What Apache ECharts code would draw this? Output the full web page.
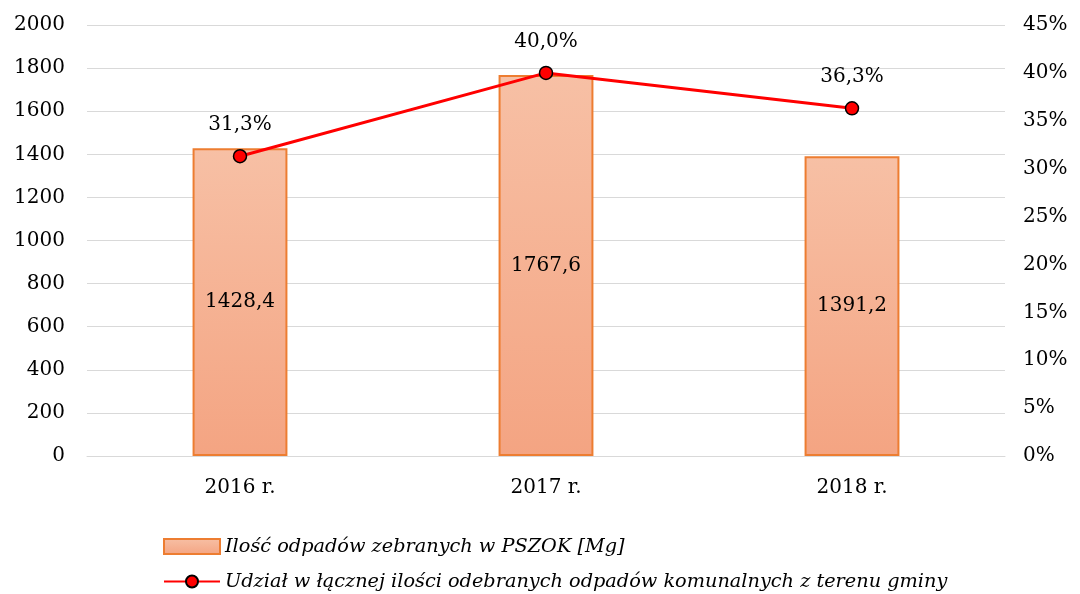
<!DOCTYPE html>
<html>
<head>
<meta charset="utf-8">
<script src="https://cdn.jsdelivr.net/npm/echarts@6/dist/echarts.min.js"></script>
<style>
  html, body { margin: 0; padding: 0; background: #fff; }
  #chart { width: 1080px; height: 594px; }
</style>
</head>
<body>
<div id="chart"></div>
<script>
// dane
var lata = ["2016 r.", "2017 r.", "2018 r."];
var ilosc = [1428.4, 1767.6, 1391.2];
var udzial = [31.3, 40.0, 36.3];
var nazwaSlupki = "Ilość odpadów zebranych w PSZOK [Mg]";
var nazwaLinia = "Udział w łącznej ilości odebranych odpadów komunalnych z terenu gminy";

(function () {
    var myChart = echarts.init(document.getElementById("chart"));
    var czcionka = "DejaVu Serif";
    var rozmiar = 20;

    function przecinek(v, d) {
        return v.toFixed(d).replace(".", ",");
    }

    var legendaTekst = {
        fontFamily: czcionka,
        fontStyle: "italic",
        fontSize: 19.3,
        color: "#000"
    };

    var option = {
        animation: false,
        textStyle: { fontFamily: czcionka },
        grid: {
            left: 87,
            right: 75,
            top: 25,
            bottom: 138
        },
        legend: [
            {
                left: 158,
                top: 532,
                itemWidth: 56,
                itemHeight: 15,
                itemGap: 4,
                icon: "rect",
                textStyle: legendaTekst,
                data: [nazwaSlupki]
            },
            {
                left: 158,
                top: 567,
                itemWidth: 56,
                itemHeight: 15,
                itemGap: 4,
                textStyle: legendaTekst,
                data: [nazwaLinia]
            }
        ],
        xAxis: {
            type: "category",
            data: lata,
            axisLine: { lineStyle: { color: "#d9d9d9", width: 1 } },
            axisTick: { show: false },
            axisLabel: { color: "#000", fontSize: rozmiar, margin: 22, fontFamily: czcionka }
        },
        yAxis: [
            {
                type: "value",
                min: 0,
                max: 2000,
                interval: 200,
                axisLine: { show: false },
                axisTick: { show: false },
                axisLabel: {
                    color: "#000", fontSize: rozmiar, margin: 22, fontFamily: czcionka,
                    formatter: function (v) { return String(v); }
                },
                splitLine: { lineStyle: { color: "#d9d9d9", width: 1 } }
            },
            {
                type: "value",
                min: 0,
                max: 45,
                interval: 5,
                axisLine: { show: false },
                axisTick: { show: false },
                splitLine: { show: false },
                axisLabel: {
                    color: "#000", fontSize: rozmiar, margin: 18, fontFamily: czcionka,
                    formatter: "{value}%"
                }
            }
        ],
        series: [
            {
                name: nazwaSlupki,
                type: "bar",
                yAxisIndex: 0,
                barWidth: "31%",
                data: ilosc,
                itemStyle: {
                    color: new echarts.graphic.LinearGradient(0, 0, 0, 1, [
                        { offset: 0, color: "#f7c0a5" },
                        { offset: 1, color: "#f4a482" }
                    ]),
                    borderColor: "#ed7d31",
                    borderWidth: 2
                },
                label: {
                    show: true,
                    position: "inside",
                    color: "#000",
                    fontSize: rozmiar,
                    fontFamily: czcionka,
                    formatter: function (p) { return przecinek(p.value, 1); }
                }
            },
            {
                name: nazwaLinia,
                type: "line",
                yAxisIndex: 1,
                data: udzial,
                symbol: "circle",
                symbolSize: 13,
                lineStyle: { color: "#ff0000", width: 3 },
                itemStyle: { color: "#ff0000", borderColor: "#000", borderWidth: 1.5 },
                label: {
                    show: true,
                    position: "top",
                    distance: 14,
                    color: "#000",
                    fontSize: rozmiar,
                    fontFamily: czcionka,
                    formatter: function (p) { return przecinek(p.value, 1) + "%"; }
                }
            }
        ]
    };

    myChart.setOption(option);
    window.addEventListener("resize", function () {
        myChart.resize();
    });
})();
</script>
</body>
</html>
